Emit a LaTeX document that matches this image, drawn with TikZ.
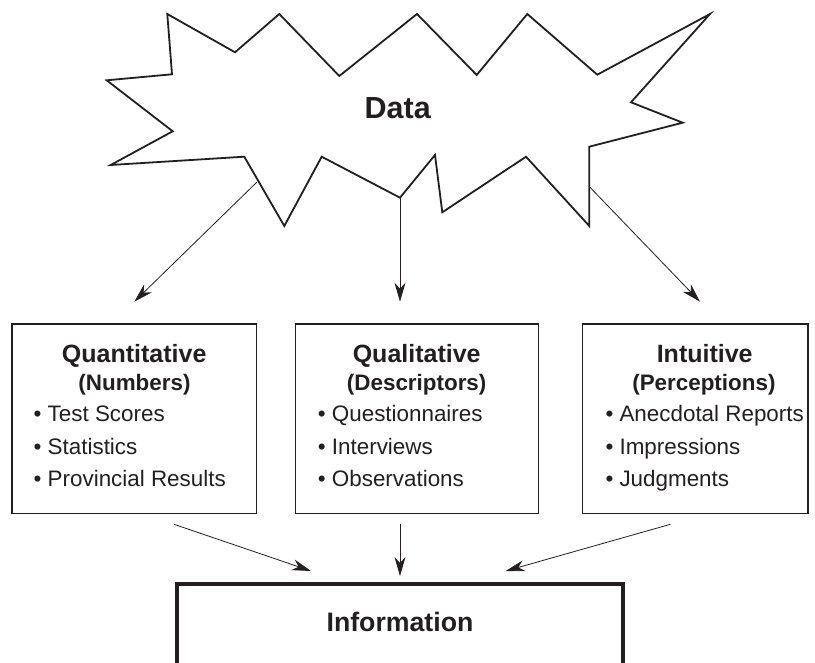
\documentclass[tikz,border=0pt]{standalone}
\usepackage{fontspec}
\setmainfont{Liberation Sans}
\usetikzlibrary{arrows.meta}
\definecolor{ink}{HTML}{231F20}
\begin{document}
\begin{tikzpicture}[x=1pt,y=-1pt,
  burst/.style={draw=ink,line width=1.8pt,fill=white},
  panel/.style={draw=ink,line width=1.5pt,inner sep=0pt},
  sink/.style={draw=ink,line width=4pt,inner sep=0pt},
  link/.style={draw=ink,line width=0.8pt,-{Stealth[length=19pt,width=11pt,inset=6pt]}},
  headline/.style={anchor=base,text=ink,font=\fontsize{30.5}{36}\selectfont\bfseries},
  title/.style={anchor=base,text=ink,inner sep=0pt,font=\fontsize{25}{30}\selectfont\bfseries},
  subtitle/.style={anchor=base,text=ink,inner sep=0pt,font=\fontsize{22.4}{27}\selectfont\bfseries},
  item/.style={anchor=base west,text=ink,inner sep=0pt,font=\fontsize{22.4}{27}\selectfont},
]
\useasboundingbox (0,0) rectangle (815,663);
\clip (0,0) rectangle (815,663);

% starburst
\draw[burst] (167.3,14) -- (235,52.3) -- (279.3,14) -- (339.3,76) -- (417,14)
  -- (476.7,75) -- (527.3,14) -- (597.3,74.7) -- (710,14) -- (631,102.3)
  -- (682.7,122.7) -- (589.3,146.7) -- (589.3,226) -- (526,156.7)
  -- (442.3,212.3) -- (435,155) -- (400,197.7) -- (321.7,156.7)
  -- (284.3,226) -- (244.3,156.7) -- (110.7,165) -- (172.7,131.3)
  -- (106.7,80.3) -- (172,74.3) -- cycle;
\node[headline] (data) at (397.7,119) {Data};

% three category boxes
\node[panel,minimum width=244.7pt,minimum height=189.5pt] (quant) at (134.35,418.75) {};
\node[panel,minimum width=242.6pt,minimum height=189.5pt] (qual) at (417,418.75) {};
\node[panel,minimum width=225.3pt,minimum height=189.5pt] (intu) at (695.35,418.75) {};

\node[title] (quantT) at (134.2,362.5) {Quantitative};
\node[subtitle] (quantS) at (134.5,390.7) {(Numbers)};
\node[item] (quant1) at (33.5,421.5) {• Test Scores};
\node[item] (quant2) at (33.5,454) {• Statistics};
\node[item] (quant3) at (33.5,486.5) {• Provincial Results};

\node[title] (qualT) at (416.7,362.5) {Qualitative};
\node[subtitle] (qualS) at (416.7,390.7) {(Descriptors)};
\node[item] (qual1) at (317.7,421.5) {• Questionnaires};
\node[item] (qual2) at (317.7,454) {• Interviews};
\node[item] (qual3) at (317.7,486.5) {• Observations};

\node[title] (intuT) at (704.7,362.5) {Intuitive};
\node[subtitle] (intuS) at (703.9,390.7) {(Perceptions)};
\node[item] (intu1) at (605.3,421.5) {• Anecdotal Reports};
\node[item] (intu2) at (605.3,454) {• Impressions};
\node[item] (intu3) at (605.3,486.5) {• Judgments};

% result box
\node[sink,minimum width=446.6pt,minimum height=135.7pt] (info) at (400,652.15) {};
\node[anchor=base,text=ink,font=\fontsize{26.7}{32}\selectfont\bfseries] (infoT) at (400,631.7) {Information};

% connectors
\coordinate (sL) at (256.7,182.3);
\coordinate (tL) at (134.3,301.7);
\coordinate (sM) at (400,197.7);
\coordinate (tM) at (400,301.7);
\coordinate (sR) at (590,187.3);
\coordinate (tR) at (700,301.7);
\draw[link] (sL) -- (tL);
\draw[link] (sM) -- (tM);
\draw[link] (sR) -- (tR);

\coordinate (bL) at (174,524.3);
\coordinate (iL) at (311,571);
\coordinate (bM) at (400,524.3);
\coordinate (iM) at (400,576);
\coordinate (bR) at (670.4,524.3);
\coordinate (iR) at (505.7,571);
\draw[link] (bL) -- (iL);
\draw[link] (bM) -- (iM);
\draw[link] (bR) -- (iR);
\end{tikzpicture}
\end{document}
